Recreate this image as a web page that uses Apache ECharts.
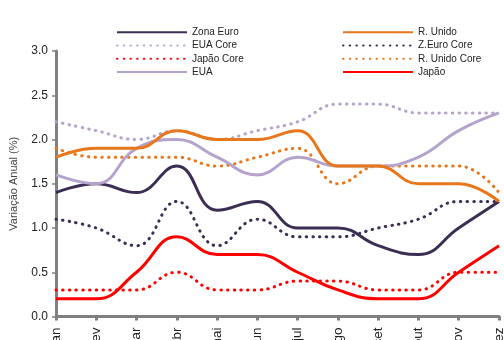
<!DOCTYPE html>
<html>
<head>
<meta charset="utf-8">
<script src="https://cdn.jsdelivr.net/npm/echarts@6/dist/echarts.min.js"></script>
<style>
  html, body { margin: 0; padding: 0; background: #fff; }
  #chart { width: 504px; height: 340px; }
</style>
</head>
<body>
<div id="chart"></div>
<script>
// Months (categories)
const months = ['jan', 'fev', 'mar', 'abr', 'mai', 'jun', 'jul', 'ago', 'set', 'out', 'nov', 'dez'];

// Annual inflation (%) by region
const zonaEuro     = [1.4, 1.5, 1.4, 1.7, 1.2, 1.3, 1.0, 1.0, 0.8, 0.7, 1.0, 1.3];
const zEuroCore    = [1.1, 1.0, 0.8, 1.3, 0.8, 1.1, 0.9, 0.9, 1.0, 1.1, 1.3, 1.3];
const eua          = [1.6, 1.5, 1.9, 2.0, 1.8, 1.6, 1.8, 1.7, 1.7, 1.8, 2.1, 2.3];
const euaCore      = [2.2, 2.1, 2.0, 2.1, 2.0, 2.1, 2.2, 2.4, 2.4, 2.3, 2.3, 2.3];
const rUnido       = [1.8, 1.9, 1.9, 2.1, 2.0, 2.0, 2.1, 1.7, 1.7, 1.5, 1.5, 1.3];
const rUnidoCore   = [1.9, 1.8, 1.8, 1.8, 1.7, 1.8, 1.9, 1.5, 1.7, 1.7, 1.7, 1.4];
const japao        = [0.2, 0.2, 0.5, 0.9, 0.7, 0.7, 0.5, 0.3, 0.2, 0.2, 0.5, 0.8];
const japaoCore    = [0.3, 0.3, 0.3, 0.5, 0.3, 0.3, 0.4, 0.4, 0.3, 0.3, 0.5, 0.5];

// Y axis ticks
const yTicks = { min: 0, max: 3, step: 0.5 };

const DARK = '#3b2e52';
const LILAC = '#b4a3cd';
const ORANGE = '#e8761a';
const RED = '#ff0000';

function solid(color) {
  return { color: color, width: 3, type: 'solid' };
}
function dotted(color) {
  return { color: color, width: 3, type: [0.5, 6.2], cap: 'round' };
}
function line(name, data, style) {
  return {
    name: name,
    type: 'line',
    data: data,
    smooth: 0.45,
    symbol: 'none',
    lineStyle: style,
    itemStyle: { color: style.color },
    emphasis: { disabled: true }
  };
}

const legendText = { fontFamily: 'Liberation Sans, Arial, sans-serif', fontSize: 10, color: '#222' };
const legendBase = {
  orient: 'vertical', top: 27, padding: 0,
  itemWidth: 70, itemHeight: 13, itemGap: 2.9,
  itemStyle: { opacity: 0 },
  textStyle: legendText
};

const chart = echarts.init(document.getElementById('chart'), null, { renderer: 'canvas' });
chart.setOption({
  animation: false,
  backgroundColor: '#fff',
  grid: { left: 56, right: 5, top: 51, bottom: 23.5, containLabel: false, outerBoundsMode: 'none' },
  legend: [
    Object.assign({}, legendBase, {
      left: 116,
      data: ['Zona Euro', 'EUA Core', 'Japão Core', 'EUA']
    }),
    Object.assign({}, legendBase, {
      left: 342,
      data: ['R. Unido', 'Z.Euro Core', 'R. Unido Core', 'Japão']
    })
  ],
  xAxis: {
    type: 'category',
    data: months,
    boundaryGap: false,
    axisLine: { lineStyle: { color: '#808080', width: 3 } },
    axisTick: { show: true, length: 4, lineStyle: { color: '#808080', width: 3 } },
    axisLabel: {
      rotate: 90, margin: 11, interval: 0,
      fontFamily: 'Liberation Sans, Arial, sans-serif', fontSize: 13.5, color: '#222'
    },
    splitLine: { show: false }
  },
  yAxis: {
    type: 'value',
    min: yTicks.min, max: yTicks.max, interval: yTicks.step,
    name: 'Variação Anual (%)',
    nameLocation: 'middle',
    nameGap: 37,
    nameTextStyle: { fontFamily: 'Liberation Sans, Arial, sans-serif', fontSize: 11, color: '#444' },
    axisLine: { show: true, lineStyle: { color: '#808080', width: 3 } },
    axisTick: { show: true, length: 4, lineStyle: { color: '#808080', width: 1.5 } },
    axisLabel: {
      margin: 8,
      formatter: v => v.toFixed(1),
      fontFamily: 'Liberation Sans, Arial, sans-serif', fontSize: 12, color: '#222'
    },
    splitLine: { show: false }
  },
  series: [
    line('Japão Core', japaoCore, dotted(RED)),
    line('Z.Euro Core', zEuroCore, dotted(DARK)),
    line('R. Unido Core', rUnidoCore, dotted(ORANGE)),
    line('EUA Core', euaCore, dotted(LILAC)),
    line('Japão', japao, solid(RED)),
    line('Zona Euro', zonaEuro, solid(DARK)),
    line('EUA', eua, solid(LILAC)),
    line('R. Unido', rUnido, solid(ORANGE))
  ]
});
</script>
</body>
</html>
